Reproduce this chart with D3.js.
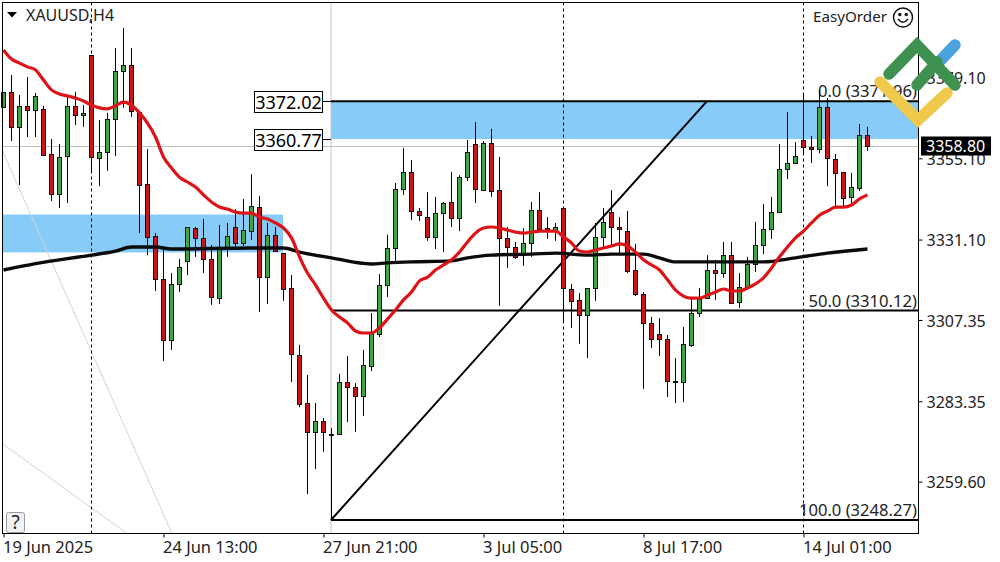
<!DOCTYPE html>
<html>
<head>
<meta charset="utf-8">
<script src="https://cdn.jsdelivr.net/npm/d3@7"></script>
<style>
  body { margin: 0; background: #fff; }
  text { font-family: "Noto Sans", sans-serif; fill: #222; }
</style>
</head>
<body>
<div id="chart"></div>
<script>
// XAUUSD H4, one entry per bar
const opens = [3370.3,3374.7,3364.4,3370.6,3369.4,3369.7,3356.4,3344.6,3355.8,3370.6,
  3367.9,3385.6,3355.2,3357.0,3366.7,3380.9,3382.7,3368.8,3347.5,3332.2,
  3319.5,3301.4,3318.0,3324.8,3334.5,3331.6,3325.4,3313.8,3328.6,3334.8,
  3330.1,3333.6,3340.7,3320.0,3332.5,3327.1,3316.8,3297.0,3282.8,3274.3,
  3277.5,3273.7,3273.7,3289.0,3287.6,3284.9,3293.7,3303.2,3317.7,3328.6,
  3346.0,3351.0,3339.5,3337.7,3331.9,3338.9,3342.2,3337.4,3349.5,3359.3,
  3345.7,3359.6,3345.7,3331.6,3328.9,3326.5,3330.1,3339.8,3334.5,3333.6,
  3340.4,3316.5,3313.3,3308.8,3316.8,3331.9,3339.2,3334.8,3333.6,3322.1,
  3315.0,3306.5,3303.2,3301.7,3289.3,3289.0,3300.0,3309.4,3313.8,3322.1,
  3321.2,3326.5,3312.7,3317.1,3323.9,3329.5,3334.2,3339.2,3351.9,3353.7,
  3360.5,3358.4,3357.8,3370.3,3354.9,3351.1,3343.7,3346.3,3362.0]
const highs = [3374.7,3379.7,3373.8,3379.1,3374.4,3370.6,3360.8,3359.3,3373.2,3374.7,
  3370.8,3385.6,3366.4,3368.5,3387.7,3393.6,3387.7,3369.1,3357.8,3333.0,
  3328.6,3321.2,3325.4,3334.8,3334.8,3337.2,3329.5,3335.4,3336.0,3340.1,
  3343.1,3350.4,3344.0,3336.0,3334.8,3327.1,3320.6,3300.0,3291.1,3282.8,
  3278.4,3275.4,3291.4,3296.7,3288.7,3298.5,3309.4,3320.9,3332.5,3347.8,
  3358.1,3354.6,3340.4,3345.1,3343.7,3342.2,3351.1,3350.1,3360.5,3365.8,
  3360.2,3363.8,3355.5,3334.8,3330.4,3334.5,3342.2,3345.1,3337.7,3336.0,
  3340.4,3318.0,3315.3,3316.8,3336.0,3340.4,3345.7,3337.7,3339.5,3329.8,
  3315.6,3308.2,3307.9,3302.9,3296.1,3305.3,3313.8,3316.8,3326.5,3325.1,
  3330.4,3330.4,3321.2,3326.0,3336.3,3341.6,3343.7,3359.3,3368.8,3359.9,
  3374.4,3361.7,3375.3,3372.9,3356.4,3351.1,3350.8,3365.2,3364.4]
const lows = [3370.3,3360.2,3347.2,3361.4,3361.4,3356.1,3342.5,3340.4,3341.9,3364.9,
  3364.4,3351.1,3346.9,3351.4,3355.8,3370.0,3367.3,3333.0,3326.5,3315.9,
  3295.2,3298.5,3315.6,3320.6,3326.0,3321.2,3311.8,3312.1,3326.0,3328.9,
  3329.2,3331.0,3309.7,3312.1,3327.4,3313.0,3289.0,3281.6,3255.9,3263.3,
  3268.4,3248.3,3273.7,3277.2,3274.3,3279.0,3292.3,3302.3,3314.1,3324.8,
  3344.3,3336.9,3336.6,3330.7,3328.3,3327.4,3334.8,3333.6,3348.4,3341.9,
  3345.4,3343.7,3311.5,3322.7,3325.4,3323.3,3326.0,3333.3,3331.3,3330.7,
  3306.5,3305.0,3300.3,3296.1,3313.0,3328.6,3329.5,3327.1,3321.2,3314.4,
  3287.0,3299.1,3296.7,3284.6,3282.8,3283.1,3299.4,3308.2,3313.8,3313.3,
  3319.8,3312.1,3310.9,3317.1,3321.5,3326.8,3331.3,3339.2,3349.0,3353.4,
  3356.1,3353.7,3356.6,3346.9,3340.7,3340.7,3341.9,3345.4,3357.3]
const closes = [3374.7,3364.4,3370.6,3369.4,3373.5,3356.1,3344.6,3355.5,3370.6,3367.9,
  3368.5,3355.5,3357.0,3366.7,3380.9,3382.7,3369.1,3347.2,3331.9,3319.5,
  3301.4,3318.0,3323.0,3334.8,3331.6,3325.4,3314.1,3328.6,3332.2,3330.1,
  3333.9,3341.0,3320.0,3332.5,3327.7,3316.5,3297.3,3282.5,3274.3,3277.5,
  3274.3,3273.4,3289.0,3287.6,3284.9,3294.0,3303.5,3317.7,3328.6,3346.0,
  3351.0,3339.5,3338.3,3331.9,3338.9,3341.9,3337.4,3349.5,3357.0,3346.0,
  3359.6,3345.4,3331.6,3328.9,3326.0,3330.1,3339.8,3334.2,3333.6,3334.8,
  3316.8,3313.0,3308.8,3316.8,3331.9,3336.3,3334.8,3334.2,3321.8,3315.0,
  3306.5,3301.7,3301.7,3289.3,3289.0,3300.3,3309.4,3313.5,3322.1,3321.2,
  3326.5,3312.4,3317.1,3323.9,3329.5,3334.2,3339.2,3351.9,3353.7,3355.8,
  3358.4,3357.8,3370.3,3355.2,3350.8,3343.4,3346.6,3362.0,3358.8]

// fast moving average, one value per bar
const redMa = [3387.1,3384.4,3383.2,3382.1,3381.2,3378.2,3375.3,3374.1,3373.5,3372.9,
  3372.0,3370.8,3370.0,3369.7,3370.6,3371.7,3370.8,3368.5,3365.5,3361.4,
  3355.5,3352.2,3349.5,3348.1,3346.6,3344.3,3342.2,3340.7,3340.1,3339.2,
  3338.9,3338.9,3337.7,3337.2,3336.0,3334.5,3331.6,3326.0,3321.2,3317.7,
  3313.8,3310.3,3308.2,3306.5,3304.1,3303.5,3303.5,3305.0,3307.6,3310.3,
  3313.3,3315.6,3318.9,3320.0,3322.1,3323.6,3325.1,3327.4,3330.4,3333.0,
  3334.5,3334.8,3334.5,3333.9,3333.3,3333.0,3333.3,3333.6,3333.6,3333.6,
  3331.9,3330.1,3327.7,3327.4,3328.0,3328.6,3329.2,3329.8,3329.2,3327.4,
  3325.1,3323.6,3322.1,3319.2,3316.2,3314.4,3313.8,3313.8,3314.7,3315.6,
  3316.5,3315.9,3315.9,3316.8,3318.0,3319.8,3322.7,3326.0,3328.9,3331.6,
  3333.6,3336.0,3338.3,3339.5,3340.7,3340.7,3341.3,3343.1,3344.3]

// slow moving average, read at these bars only
const blackMaBars = [0,4,11,14,16,19,21,31,35,37,41,46,48,51,56,58,61,66,69,73,76,80,82,84,88,95,99,103,108]
const blackMa = [3322.1,3324.0,3326.5,3327.7,3328.9,3328.9,3328.3,3328.6,3328.6,3327.4,3325.7,3323.9,3324.2,3324.5,3324.8,3325.7,3326.5,3326.8,3327.1,3326.5,3326.8,3326.8,3325.7,3324.5,3324.5,3324.5,3325.7,3327.1,3328.3]

const yTicks = [3379.10,3355.10,3331.10,3307.35,3283.35,3259.60]
const xTickBars = [0,20,40,60,80,100]
const xTickLabels = ["19 Jun 2025","24 Jun 13:00","27 Jun 21:00","3 Jul 05:00","8 Jul 17:00","14 Jul 01:00"]
const separatorBars = [11,70,100]

const fibLevels = [3371.96,3310.12,3248.27]
const fibLabels = ["0.0 (3371.96)","50.0 (3310.12)","100.0 (3248.27)"]
const zoneTop = 3372.02
const zoneBottom = 3360.77
const oldZoneTop = 3338.5
const oldZoneBottom = 3327.3
const lastPrice = 3358.80

const width = 1000
const height = 562
const frame = { left: 2.5, right: 918.5, top: 2.5, bottom: 533.5 }

let svg = d3.select("#chart").append("svg")
    .attr("width", width)
    .attr("height", height)
    .style("display", "block")

let xScale = d3.scaleLinear().domain([0, 108]).range([3.5, 867.5])
let yScale = d3.scaleLinear().domain([3248.27, 3372.02]).range([520, 101])
let yPx = v => Math.round(yScale(v)) + 0.5
let fibStart = xScale(41) - 0.5

// zones go behind everything
svg.append("rect")
    .attr("x", frame.left).attr("width", xScale(35) - 0.5 - frame.left)
    .attr("y", yScale(oldZoneTop)).attr("height", yScale(oldZoneBottom) - yScale(oldZoneTop))
    .attr("fill", "#87cbf9")
svg.append("rect")
    .attr("x", fibStart).attr("width", frame.right - fibStart)
    .attr("y", yScale(zoneTop)).attr("height", yScale(zoneBottom) - yScale(zoneTop))
    .attr("fill", "#87cbf9")

// old trendlines
let grey = "#d4d4d4"
svg.append("line").attr("x1", 3).attr("y1", 152).attr("x2", 172).attr("y2", frame.bottom).attr("stroke", grey)
svg.append("line").attr("x1", 3).attr("y1", 444).attr("x2", 127).attr("y2", frame.bottom).attr("stroke", grey)

// crosshair and last price
svg.append("line").attr("x1", fibStart).attr("x2", fibStart).attr("y1", frame.top).attr("y2", frame.bottom).attr("stroke", "#c4c4c4")
svg.append("line").attr("x1", frame.left).attr("x2", frame.right).attr("y1", yPx(lastPrice)).attr("y2", yPx(lastPrice)).attr("stroke", "#c0c0c0")

// period separators
svg.selectAll(".sep").data(separatorBars).enter().append("line")
    .attr("x1", d => xScale(d)).attr("x2", d => xScale(d))
    .attr("y1", frame.top).attr("y2", frame.bottom)
    .attr("stroke", "#000").attr("stroke-dasharray", "3,3")

// fibo
svg.selectAll(".fib").data(fibLevels).enter().append("line")
    .attr("x1", fibStart).attr("x2", frame.right)
    .attr("y1", d => yScale(d)).attr("y2", d => yScale(d))
    .attr("stroke", "#000").attr("stroke-width", 2)
svg.append("line")
    .attr("x1", fibStart).attr("y1", yScale(fibLevels[2]))
    .attr("x2", 707).attr("y2", yScale(fibLevels[0]))
    .attr("stroke", "#000").attr("stroke-width", 2)
svg.selectAll(".fibText").data(fibLabels).enter().append("text")
    .attr("x", 917)
    .attr("y", (d, i) => yScale(fibLevels[i]) - 4)
    .attr("text-anchor", "end")
    .style("font-size", "16.6px")
    .text(d => d)

// candles
let bars = opens.map((o, i) => ({ i, o, h: highs[i], l: lows[i], c: closes[i] }))
let candle = svg.append("g").selectAll("g").data(bars).enter().append("g")
candle.append("line")
    .attr("x1", d => xScale(d.i)).attr("x2", d => xScale(d.i))
    .attr("y1", d => yScale(d.h)).attr("y2", d => yScale(d.l))
    .attr("stroke", "#000")
candle.append("rect")
    .attr("x", d => xScale(d.i) - 2)
    .attr("width", 4)
    .attr("y", d => yPx(Math.max(d.o, d.c)))
    .attr("height", d => Math.max(1, yPx(Math.min(d.o, d.c)) - yPx(Math.max(d.o, d.c))))
    .attr("fill", d => d.c >= d.o ? "#3fa648" : "#c8161b")
    .attr("stroke", "#111")

// moving averages
let maLine = d3.line().x(d => xScale(d[0])).y(d => yScale(d[1])).curve(d3.curveMonotoneX)
svg.append("path")
    .attr("d", maLine(blackMaBars.map((b, i) => [b, blackMa[i]])))
    .attr("fill", "none").attr("stroke", "#0b0b0b").attr("stroke-width", 3.4)
svg.append("path")
    .attr("d", maLine(redMa.map((v, i) => [i, v])))
    .attr("fill", "none").attr("stroke", "#dc1418").attr("stroke-width", 3.2)

// axes
let yAxis = d3.axisRight(yScale).tickValues(yTicks).tickFormat(d3.format(".2f")).tickSize(4).tickPadding(4)
let yG = svg.append("g").attr("transform", `translate(${frame.right},0)`).call(yAxis)
yG.select(".domain").remove()
yG.selectAll("text").attr("y", 1).style("font-size", "16px")

let xAxis = d3.axisBottom(xScale).tickValues(xTickBars).tickFormat((d, i) => xTickLabels[i]).tickSize(4).tickPadding(4)
let xG = svg.append("g").attr("transform", `translate(0,${frame.bottom})`).call(xAxis)
xG.select(".domain").remove()
xG.selectAll("text").attr("text-anchor", "start").attr("x", -1).style("font-size", "16.5px")

svg.append("rect")
    .attr("x", frame.left).attr("y", frame.top)
    .attr("width", frame.right - frame.left).attr("height", frame.bottom - frame.top)
    .attr("fill", "none").attr("stroke", "#000")

// price tags on the zone
let tags = [zoneTop, zoneBottom]
svg.selectAll(".tagLine").data(tags).enter().append("line")
    .attr("x1", 322).attr("x2", fibStart)
    .attr("y1", d => yPx(d)).attr("y2", d => yPx(d))
    .attr("stroke", "#000")
svg.selectAll(".tagBox").data(tags).enter().append("rect")
    .attr("x", 254.5).attr("width", 68).attr("height", 21)
    .attr("y", d => yPx(d) - 10.5 + 0.5)
    .attr("fill", "#fff").attr("stroke", "#000")
svg.selectAll(".tagText").data(tags).enter().append("text")
    .attr("x", 288.5).attr("y", d => yPx(d) + 7)
    .attr("text-anchor", "middle")
    .style("font-size", "18px").style("fill", "#000")
    .text(d => d.toFixed(2))

// last price label
svg.append("rect").attr("x", 921).attr("y", yPx(lastPrice) - 10).attr("width", 70).attr("height", 19).attr("fill", "#000")
svg.append("text").attr("x", 926).attr("y", yPx(lastPrice) + 5.5)
    .style("font-size", "16px").style("fill", "#fff").text(lastPrice.toFixed(2))

// top left title
svg.append("path").attr("d", "M7,12 L17,12 L12,17.5 Z").attr("fill", "#000")
svg.append("text").attr("x", 26).attr("y", 21).style("font-size", "16px").text("XAUUSD,H4")

// EasyOrder and smiley
svg.append("text").attr("x", 813).attr("y", 22).style("font-size", "15.2px").text("EasyOrder")
let smile = svg.append("g").attr("transform", "translate(903,17.5)").attr("fill", "none").attr("stroke", "#111").attr("stroke-width", 1.4)
smile.append("circle").attr("r", 9.5)
smile.append("path").attr("d", "M-5,1.5 Q0,8 5,1.5")
smile.append("circle").attr("cx", -3.2).attr("cy", -3).attr("r", 1).attr("fill", "#111")
smile.append("circle").attr("cx", 3.2).attr("cy", -3).attr("r", 1).attr("fill", "#111")

// help button
svg.append("rect").attr("x", 6.5).attr("y", 512.5).attr("width", 18).attr("height", 20).attr("rx", 2)
    .attr("fill", "#f2f2f2").attr("stroke", "#9a9a9a")
svg.append("text").attr("x", 15.5).attr("y", 529).attr("text-anchor", "middle").style("font-size", "19px").text("?")

// watermark logo sits on top of the chart
let logo = svg.append("g").attr("fill", "none").attr("stroke-width", 11.5).attr("stroke-linecap", "round").attr("stroke-linejoin", "miter")
logo.append("path").attr("d", "M939,62 L955,45").attr("stroke", "#4aa3df")
logo.append("path").attr("d", "M880,82 L918,120 L947,93").attr("stroke", "#efc84c")
logo.append("path").attr("d", "M889,74 L917,45 L955,85 M917,85 L937,62").attr("stroke", "#3f9150")
</script>
</body>
</html>
